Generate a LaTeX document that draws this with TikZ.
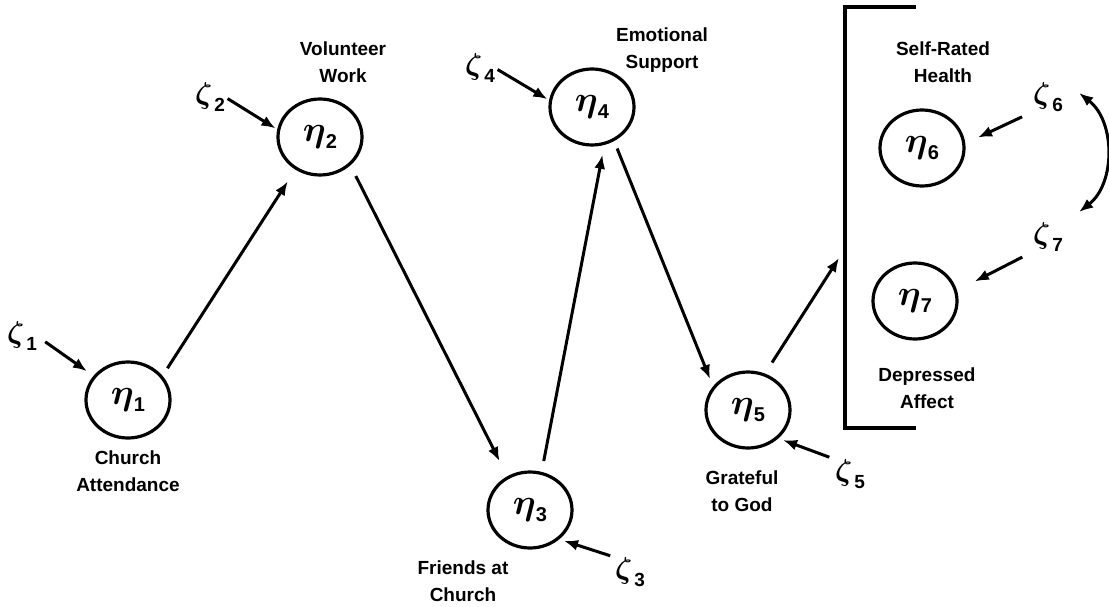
\RequirePackage{fix-cm}
\documentclass[tikz,border=0pt]{standalone}
\usepackage{amsmath}
\usepackage{fontspec}
\setmainfont{Liberation Sans}
\usetikzlibrary{arrows.meta,shapes.geometric}
\newcommand{\latvar}[1]{{\fontsize{36}{36}\selectfont$\boldsymbol{\eta}$}\kern0pt\raisebox{-7pt}{\fontsize{20}{20}\selectfont\bfseries #1}}
\newcommand{\errvar}[1]{{\fontsize{30}{30}\selectfont$\boldsymbol{\zeta}$}\kern2pt\raisebox{-8pt}{\fontsize{19}{19}\selectfont\bfseries #1}}
\tikzset{
  latent/.style={ellipse,draw,line width=3.2pt,minimum width=84pt,minimum height=76pt,inner sep=0pt},
  errnode/.style={inner sep=0pt},
  lbl/.style={align=center,font=\fontsize{19}{27}\selectfont\bfseries},
  arr/.style={line width=3pt,-{Latex[length=14pt,width=11pt]}},
  dbl/.style={line width=3pt,{Latex[length=14pt,width=11pt]}-{Latex[length=14pt,width=11pt]}},
  brk/.style={line width=3.2pt}
}
\begin{document}
\begin{tikzpicture}[x=1pt,y=-1pt]
\useasboundingbox (0,0) rectangle (1109,607);
% latent variables
\node[latent] (e1) at (128,400) {\latvar{1}};
\node[latent] (e2) at (320,137) {\latvar{2}};
\node[latent] (e3) at (530,510) {\latvar{3}};
\node[latent] (e4) at (592,107) {\latvar{4}};
\node[latent] (e5) at (748,410) {\latvar{5}};
\node[latent] (e6) at (922,148) {\latvar{6}};
\node[latent] (e7) at (915,301) {\latvar{7}};
% disturbances
\node[errnode] (z1) at (22,336) {\errvar{1}};
\node[errnode] (z2) at (210,97) {\errvar{2}};
\node[errnode] (z3) at (630,572) {\errvar{3}};
\node[errnode] (z4) at (480,68) {\errvar{4}};
\node[errnode] (z5) at (850,474) {\errvar{5}};
\node[errnode] (z6) at (1048,97) {\errvar{6}};
\node[errnode] (z7) at (1048,237) {\errvar{7}};
% labels
\node[lbl] (l1) at (128,471) {Church\\Attendance};
\node[lbl] (l2) at (343,62) {Volunteer\\Work};
\node[lbl] (l3) at (463,581) {Friends at\\Church};
\node[lbl] (l4) at (662,50) {Emotional\\Support};
\node[lbl] (l5) at (742,491) {Grateful\\to God};
\node[lbl] (l6) at (943,62) {Self-Rated\\Health};
\node[lbl] (l7) at (927,388) {Depressed\\Affect};
% bracket
\coordinate (bt) at (916,7);
\coordinate (bb) at (916,428);
\draw[brk] (bt) -- (845,7) -- (845,428) -- (bb);
\coordinate (btip) at (839,258);
% structural paths
\draw[arr,shorten <=9pt,shorten >=14pt] (e1.35) -- (e2.233);
\draw[arr,shorten <=12pt,shorten >=17pt] (e2.-43) -- (e3.124);
\draw[arr,shorten <=11pt,shorten >=10pt] (e3.73) -- (e4.-72);
\draw[arr,shorten <=8pt,shorten >=8pt] (e4.-57) -- (e5.146);
\draw[arr,shorten <=13pt] (e5.65) -- (btip);
% disturbance paths
\draw[arr,shorten <=10pt,shorten >=8pt] (z1.east) -- (e1.145);
\draw[arr,shorten <=3pt,shorten >=2pt] (z2.east) -- (e2.170);
\draw[arr,shorten <=5pt,shorten >=5pt] (z3.north west) -- (e3.-45);
\draw[arr,shorten <=3pt,shorten >=2pt] (z4.east) -- (e4.171);
\draw[arr,shorten <=6pt,shorten >=5pt] (z5.north west) -- (e5.-43);
\draw[arr,shorten <=12pt,shorten >=14pt] (z6.south west) -- (e6.6);
\draw[arr,shorten <=12pt,shorten >=20pt] (z7.south west) -- (e7.14);
% correlated disturbances
\draw[dbl] ([xshift=16pt,yshift=4pt]z6.east) to[bend left=52] ([xshift=16pt,yshift=25pt]z7.east);
\end{tikzpicture}
\end{document}
